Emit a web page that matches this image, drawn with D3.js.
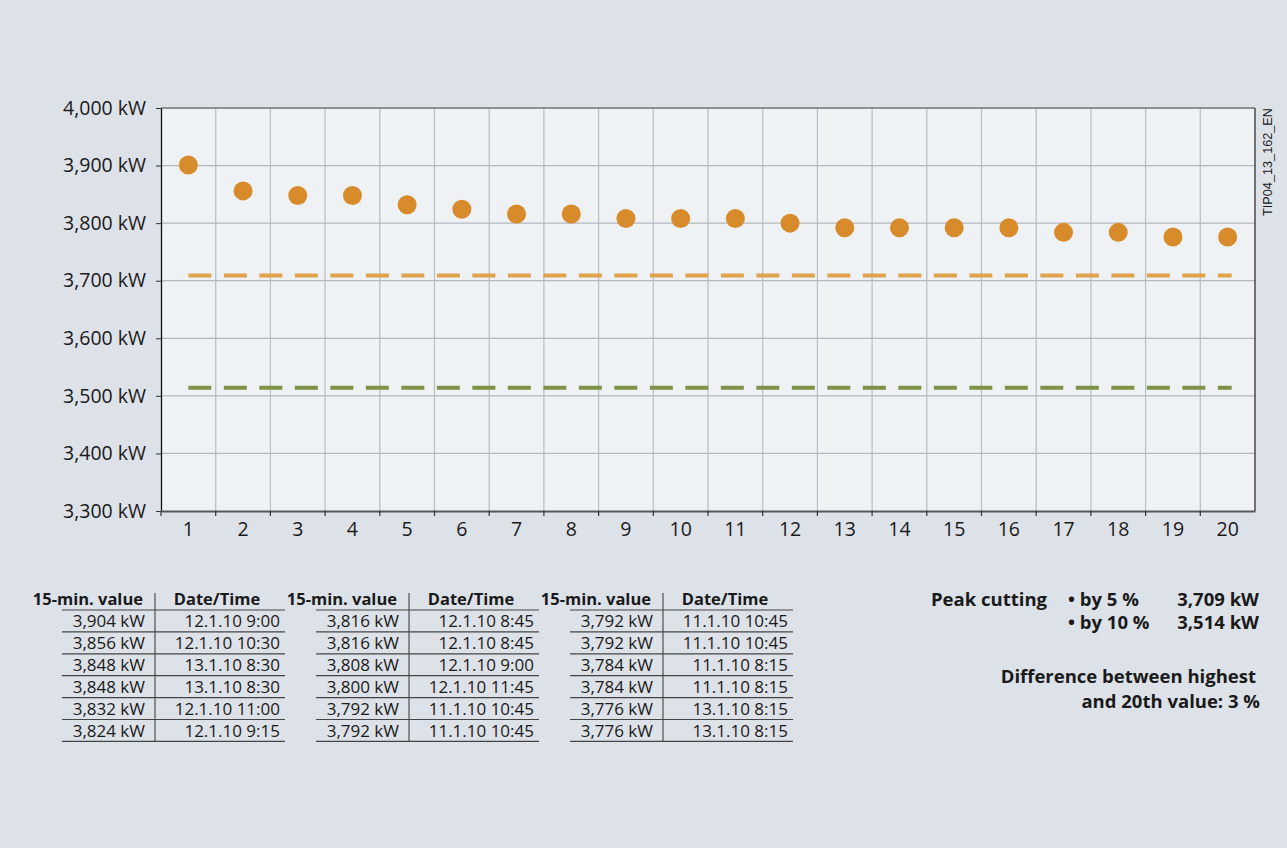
<!DOCTYPE html>
<html><head><meta charset="utf-8">
<script src="https://cdn.jsdelivr.net/npm/d3@7"></script>
<style>
html,body{margin:0;padding:0;background:#dde1e8;}
text{font-family:"Open Sans","Noto Sans",sans-serif;fill:#1a1a1a;}
</style></head>
<body>
<svg id="c" width="1287" height="848"></svg>
<script>
const ranks = d3.range(1, 21);
const peakValues = [3901,3856,3848,3848,3832,3824,3816,3816,3808,3808,3808,3800,3792,3792,3792,3792,3784,3784,3776,3776];
const yTicks = [3300,3400,3500,3600,3700,3800,3900,4000];
const cut5 = 3709, cut10 = 3514;
const tableValues = [
  ["3,904 kW","3,856 kW","3,848 kW","3,848 kW","3,832 kW","3,824 kW"],
  ["3,816 kW","3,816 kW","3,808 kW","3,800 kW","3,792 kW","3,792 kW"],
  ["3,792 kW","3,792 kW","3,784 kW","3,784 kW","3,776 kW","3,776 kW"]
];
const tableDates = [
  ["12.1.10 9:00","12.1.10 10:30","13.1.10 8:30","13.1.10 8:30","12.1.10 11:00","12.1.10 9:15"],
  ["12.1.10 8:45","12.1.10 8:45","12.1.10 9:00","12.1.10 11:45","11.1.10 10:45","11.1.10 10:45"],
  ["11.1.10 10:45","11.1.10 10:45","11.1.10 8:15","11.1.10 8:15","13.1.10 8:15","13.1.10 8:15"]
];
const headers = ["15-min. value","Date/Time"];

const svg = d3.select("#c");
const L=161, R=1255, T=108, B=511;
const x = d3.scaleBand().domain(ranks).range([L,R]).padding(0);
const y = d3.scaleLinear().domain([3300,4000]).range([B,T]);

svg.append("rect").attr("x",L).attr("y",T).attr("width",R-L).attr("height",B-T).attr("fill","#eff2f5");

// grid
const g = svg.append("g");
g.selectAll(".vg").data(ranks.slice(1)).enter().append("line")
  .attr("x1",d=>x(d)).attr("x2",d=>x(d)).attr("y1",T).attr("y2",B)
  .attr("stroke","#babec6").attr("stroke-width",1.3);
g.selectAll(".hg").data(yTicks.slice(1,-1)).enter().append("line")
  .attr("x1",L).attr("x2",R).attr("y1",d=>y(d)).attr("y2",d=>y(d))
  .attr("stroke","#b3b7bf").attr("stroke-width",1.3);

// frame
svg.append("line").attr("x1",L).attr("x2",R).attr("y1",T).attr("y2",T).attr("stroke","#6f7277").attr("stroke-width",1.5);
svg.append("line").attr("x1",R).attr("x2",R).attr("y1",T).attr("y2",B).attr("stroke","#222").attr("stroke-width",1.2);

// y axis
const ya = svg.append("g").attr("transform",`translate(${L},0)`)
  .call(d3.axisLeft(y).tickValues(yTicks).tickSize(5).tickSizeOuter(0).tickPadding(10).tickFormat(d=>d3.format(",")(d)+" kW"));
ya.select(".domain").attr("stroke","#111").attr("stroke-width",1.3);
ya.selectAll(".tick line").attr("stroke","#333");
ya.selectAll("text").style("font-size","19.5px").attr("fill","#1a1a1a").style("font-family","'Open Sans',sans-serif");

// x axis: ticks at band boundaries
const xa = svg.append("g").attr("transform",`translate(0,${B})`)
  .call(d3.axisBottom(x).tickSize(0).tickPadding(11));
xa.select(".domain").attr("stroke","#55585c").attr("stroke-width",2);
xa.selectAll("text").style("font-size","19.5px").attr("fill","#1a1a1a").style("font-family","'Open Sans',sans-serif");
svg.append("g").selectAll("line").data(ranks).enter().append("line")
  .attr("x1",d=>x(d)).attr("x2",d=>x(d)).attr("y1",B).attr("y2",B+5)
  .attr("stroke","#333").attr("stroke-width",1.2);

// dashed cut lines
const x0 = x(1)+x.bandwidth()/2, x1 = x(20)+x.bandwidth()/2+4;
svg.append("line").attr("x1",x0).attr("x2",x1).attr("y1",y(cut5)).attr("y2",y(cut5))
  .attr("stroke","#e0a24a").attr("stroke-width",4).attr("stroke-dasharray","23,12.5");
svg.append("line").attr("x1",x0).attr("x2",x1).attr("y1",y(cut10)).attr("y2",y(cut10))
  .attr("stroke","#7e9346").attr("stroke-width",4).attr("stroke-dasharray","23,12.5");

// dots
svg.append("g").selectAll("circle").data(peakValues).enter().append("circle")
  .attr("cx",(d,i)=>x(ranks[i])+x.bandwidth()/2).attr("cy",d=>y(d)).attr("r",9.5)
  .attr("fill","#d88b2a");

// vertical code label
svg.append("text").attr("transform","translate(1272,108) rotate(-90)").attr("text-anchor","end")
  .style("font-size","12.7px").style("font-family","'Liberation Sans',Arial,sans-serif").text("TIP04_13_162_EN");

// tables
const sepXs = [155, 409, 663];
const rowH = 21.9, line0 = 610;
sepXs.forEach((sx,ti)=>{
  const t = svg.append("g");
  t.append("text").attr("x",sx-12).attr("y",line0-5).attr("text-anchor","end")
    .style("font-size","16.5px").style("font-weight","bold").text(headers[0]);
  t.append("text").attr("x",sx+62).attr("y",line0-5).attr("text-anchor","middle")
    .style("font-size","16.5px").style("font-weight","bold").text(headers[1]);
  t.append("line").attr("x1",sx).attr("x2",sx).attr("y1",line0-17).attr("y2",line0+rowH*6)
    .attr("stroke","#333").attr("stroke-width",1);
  t.selectAll(".rl").data(d3.range(7)).enter().append("line")
    .attr("x1",sx-93).attr("x2",sx+130).attr("y1",i=>line0+i*rowH).attr("y2",i=>line0+i*rowH)
    .attr("stroke","#444").attr("stroke-width",1.2);
  t.selectAll(".v").data(tableValues[ti]).enter().append("text")
    .attr("x",sx-10).attr("y",(d,i)=>line0+(i+1)*rowH-4.5).attr("text-anchor","end")
    .style("font-size","17px").text(d=>d);
  t.selectAll(".dt").data(tableDates[ti]).enter().append("text")
    .attr("x",sx+125).attr("y",(d,i)=>line0+(i+1)*rowH-4.5).attr("text-anchor","end")
    .style("font-size","17px").text(d=>d);
});

// right notes
const n = svg.append("g").style("font-size","18.5px").style("font-weight","bold");
n.append("text").attr("x",931).attr("y",606).text("Peak cutting");
n.append("text").attr("x",1068).attr("y",606).text("• by 5 %");
n.append("text").attr("x",1068).attr("y",629).text("• by 10 %");
n.append("text").attr("x",1259).attr("y",606).attr("text-anchor","end").text(d3.format(",")(cut5)+" kW");
n.append("text").attr("x",1259).attr("y",629).attr("text-anchor","end").text(d3.format(",")(cut10)+" kW");
n.append("text").attr("x",1256).attr("y",683).attr("text-anchor","end").text("Difference between highest");
n.append("text").attr("x",1260).attr("y",708).attr("text-anchor","end").text("and 20th value: 3 %");
</script>
</body></html>
